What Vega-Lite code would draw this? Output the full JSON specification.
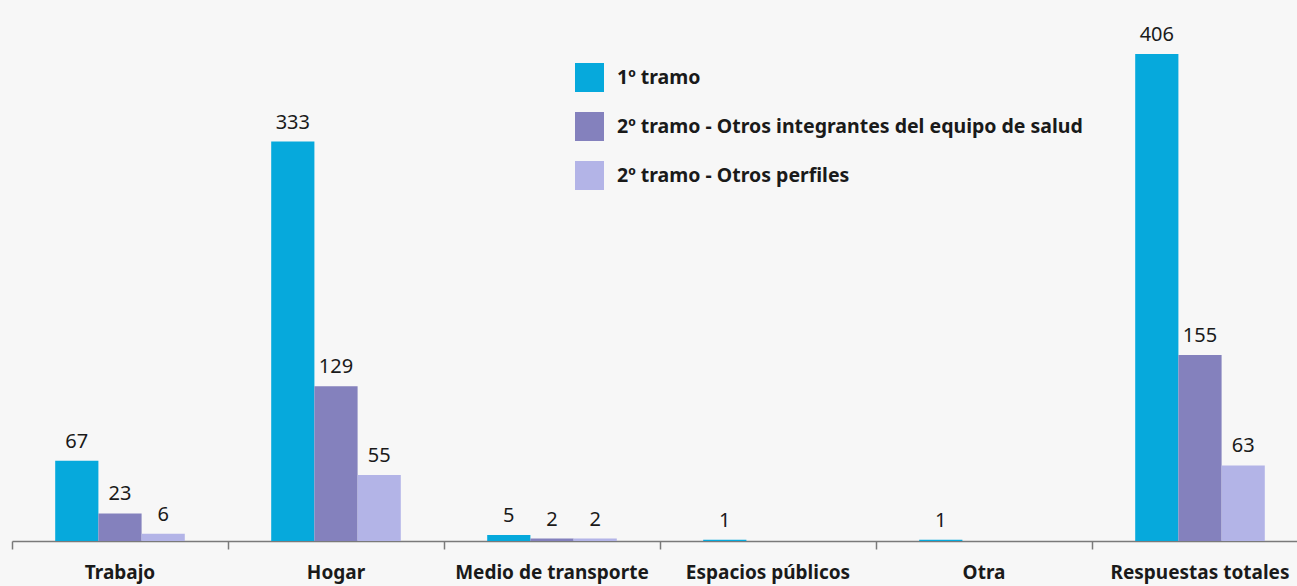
{
  "$schema": "https://vega.github.io/schema/vega-lite/v6.json",
  "width": 1285,
  "height": 487,
  "autosize": {"type": "none"},
  "padding": {"left": 12, "top": 54, "right": 0, "bottom": 45},
  "background": "#f7f7f7",
  "config": {"view": {"stroke": null}, "font": "Noto Sans"},
  "data": {"values": [
    {"cat": "Trabajo", "grupo": "1º tramo", "v": 67},
    {"cat": "Trabajo", "grupo": "2º tramo - Otros integrantes del equipo de salud", "v": 23},
    {"cat": "Trabajo", "grupo": "2º tramo - Otros perfiles", "v": 6},
    {"cat": "Hogar", "grupo": "1º tramo", "v": 333},
    {"cat": "Hogar", "grupo": "2º tramo - Otros integrantes del equipo de salud", "v": 129},
    {"cat": "Hogar", "grupo": "2º tramo - Otros perfiles", "v": 55},
    {"cat": "Medio de transporte", "grupo": "1º tramo", "v": 5},
    {"cat": "Medio de transporte", "grupo": "2º tramo - Otros integrantes del equipo de salud", "v": 2},
    {"cat": "Medio de transporte", "grupo": "2º tramo - Otros perfiles", "v": 2},
    {"cat": "Espacios públicos", "grupo": "1º tramo", "v": 1},
    {"cat": "Otra", "grupo": "1º tramo", "v": 1},
    {"cat": "Respuestas totales", "grupo": "1º tramo", "v": 406},
    {"cat": "Respuestas totales", "grupo": "2º tramo - Otros integrantes del equipo de salud", "v": 155},
    {"cat": "Respuestas totales", "grupo": "2º tramo - Otros perfiles", "v": 63}
  ]},
  "encoding": {
    "x": {
      "field": "cat", "type": "nominal", "sort": null,
      "scale": {"domain": ["Trabajo", "Hogar", "Medio de transporte", "Espacios públicos", "Otra", "Respuestas totales"], "range": [0, 1296], "paddingInner": 0, "paddingOuter": 0},
      "axis": {
        "title": null, "bandPosition": 0, "labelDx": 108, "labelAngle": 0,
        "labelOverlap": false, "labelFlush": false, "labelBound": false, "labelLimit": 400,
        "domainColor": "#7a7a7a", "domainWidth": 1.5, "tickColor": "#7a7a7a", "tickWidth": 1.5, "tickSize": 8,
        "labelFontSize": 19, "labelFontWeight": "bold", "labelColor": "#1a1a1a", "labelPadding": 14, "grid": false
      }
    },
    "xOffset": {
      "field": "grupo", "type": "nominal",
      "scale": {"domain": ["1º tramo", "2º tramo - Otros integrantes del equipo de salud", "2º tramo - Otros perfiles"], "paddingInner": 0, "paddingOuter": 1.04}
    },
    "y": {
      "field": "v", "type": "quantitative",
      "scale": {"domain": [0, 406], "nice": false},
      "axis": null
    }
  },
  "layer": [
    {
      "mark": {"type": "bar"},
      "encoding": {
        "color": {
          "field": "grupo", "type": "nominal",
          "scale": {"domain": ["1º tramo", "2º tramo - Otros integrantes del equipo de salud", "2º tramo - Otros perfiles"], "range": ["#06a9dc", "#8481bd", "#b3b4e7"]},
          "legend": {
            "title": null, "orient": "none", "legendX": 563, "legendY": 9, "padding": 0,
            "symbolType": "square", "symbolSize": 841, "symbolStrokeWidth": 0, "symbolOpacity": 1,
            "labelFontSize": 19.5, "labelFontWeight": "bold", "labelColor": "#1a1a1a", "labelOffset": 13,
            "rowPadding": 20, "labelLimit": 800
          }
        }
      }
    },
    {
      "mark": {"type": "text", "baseline": "alphabetic", "dy": -13, "fontSize": 20, "color": "#1a1a1a"},
      "encoding": {"text": {"field": "v", "type": "quantitative"}}
    }
  ]
}
